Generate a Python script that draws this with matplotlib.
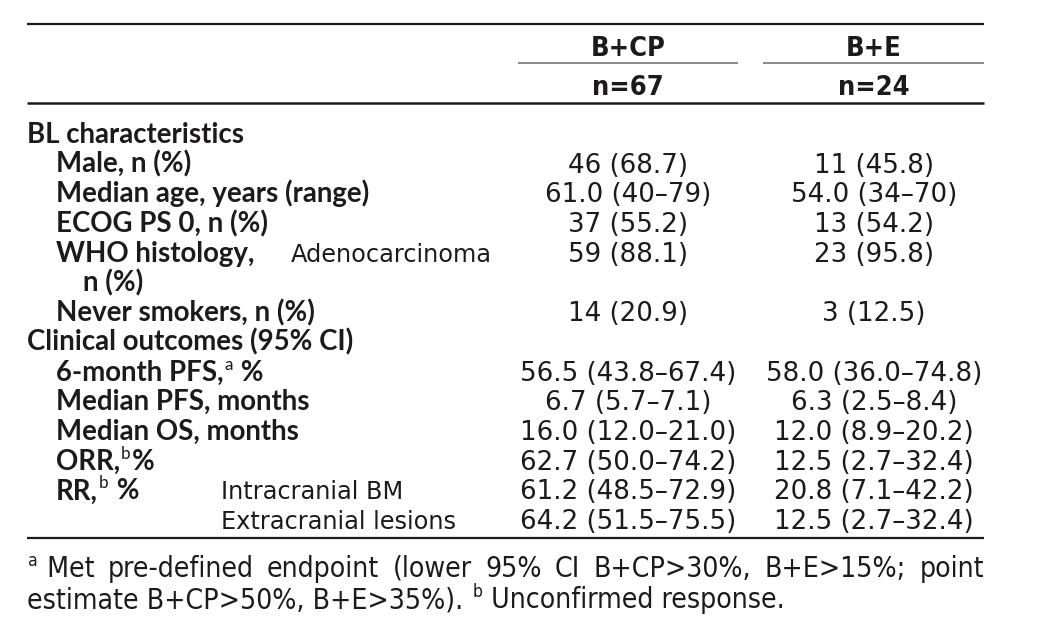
import matplotlib
matplotlib.use('Agg')
import matplotlib.pyplot as plt
from matplotlib import font_manager


def pick(names, stretch='normal'):
    for n in names:
        try:
            p = font_manager.FontProperties(family=n, stretch=stretch)
            font_manager.findfont(p, fallback_to_default=False)
            return n
        except Exception:
            pass
    return 'DejaVu Sans'


BOLD = pick(['Lato', 'Open Sans', 'DejaVu Sans'])
REG = 'DejaVu Sans'
NARROW = pick(['Liberation Sans Narrow', 'DejaVu Sans'], stretch='condensed')
INK = '#1c1a1b'

# table content
groups = ['B+CP', 'B+E']
group_n = ['n=67', 'n=24']
row_labels = ['BL characteristics', 'Male, n (%)', 'Median age, years (range)',
              'ECOG PS 0, n (%)', 'WHO histology,', 'n (%)', 'Never smokers, n (%)',
              'Clinical outcomes (95% CI)', '6-month PFS,^a %', 'Median PFS, months',
              'Median OS, months', 'ORR,^b%', 'RR,^b %', '']
row_sub = ['', '', '', '', 'Adenocarcinoma', '', '', '', '', '', '', '',
           'Intracranial BM', 'Extracranial lesions']
bcp_vals = ['', '46 (68.7)', '61.0 (40–79)', '37 (55.2)', '59 (88.1)', '', '14 (20.9)', '',
            '56.5 (43.8–67.4)', '6.7 (5.7–7.1)', '16.0 (12.0–21.0)', '62.7 (50.0–74.2)',
            '61.2 (48.5–72.9)', '64.2 (51.5–75.5)']
be_vals = ['', '11 (45.8)', '54.0 (34–70)', '13 (54.2)', '23 (95.8)', '', '3 (12.5)', '',
           '58.0 (36.0–74.8)', '6.3 (2.5–8.4)', '12.0 (8.9–20.2)', '12.5 (2.7–32.4)',
           '20.8 (7.1–42.2)', '12.5 (2.7–32.4)']
footnotes = ['^a Met pre-defined endpoint (lower 95% CI B+CP>30%, B+E>15%; point',
             'estimate B+CP>50%, B+E>35%). ^b Unconfirmed response.']

# layout
indent = [0, 1, 1, 1, 1, 2, 1, 0, 1, 1, 1, 1, 1, 1]
indent_x = {0: 27, 1: 56, 2: 83}
sub_x = [0, 0, 0, 0, 291, 0, 0, 0, 0, 0, 0, 0, 221, 221]
col_x = [628, 874]
row0, row_h = 143, 29.7
bold_size = 19.9
sub_size = 17.3
val_size = 18.8

fig = plt.figure(figsize=(10.47, 6.21), dpi=100)
ax = fig.add_axes([0, 0, 1, 1])
ax.set_xlim(0, 1047)
ax.set_ylim(621, 0)
ax.axis('off')
renderer = fig.canvas.get_renderer()


def rich(x, y, s, size, weight='normal', family=REG, stretch='normal', draw=True):
    """draw text with ^x superscripts, return width in px"""
    parts = s.split('^')
    cx = x
    for i, p in enumerate(parts):
        if i > 0 and p:
            sup, p = p[0], p[1:]
            t = ax.text(cx + 1, y - size * 0.55, sup, fontsize=size * 0.62, family=family,
                        fontstretch=stretch, weight='normal', color=INK,
                        va='baseline', ha='left')
            cx += t.get_window_extent(renderer).width + 2
            if not draw:
                t.remove()
        if p:
            t = ax.text(cx, y, p, fontsize=size, family=family, weight=weight,
                        fontstretch=stretch, color=INK, va='baseline', ha='left')
            cx += t.get_window_extent(renderer).width
            if not draw:
                t.remove()
    return cx - x


# rules
ax.plot([27, 984], [24, 24], color=INK, lw=1.6, solid_capstyle='butt')
ax.plot([518, 738], [63, 63], color='#777777', lw=1.2, solid_capstyle='butt')
ax.plot([763, 984], [63, 63], color='#777777', lw=1.2, solid_capstyle='butt')
ax.plot([27, 984], [103, 103], color=INK, lw=1.8, solid_capstyle='butt')
ax.plot([27, 984], [538, 538], color=INK, lw=1.6, solid_capstyle='butt')

# header
for x, g, n in zip(col_x, groups, group_n):
    ax.text(x, 56, g, fontsize=19.5, family=NARROW, fontstretch='condensed', weight='bold',
            color=INK, ha='center', va='baseline')
    ax.text(x, 95, n, fontsize=19.5, family=NARROW, fontstretch='condensed', weight='bold',
            color=INK, ha='center', va='baseline')

# body
for i, lab in enumerate(row_labels):
    y = row0 + i * row_h
    if lab:
        rich(indent_x[indent[i]], y, lab, bold_size, weight='bold', family=BOLD)
    if row_sub[i]:
        ax.text(sub_x[i], y, row_sub[i], fontsize=sub_size, family=REG, color=INK,
                ha='left', va='baseline')
    for x, v in zip(col_x, [bcp_vals[i], be_vals[i]]):
        if v:
            ax.text(x, y, v, fontsize=val_size, family=REG, color=INK,
                    ha='center', va='baseline')

# footnote, first line justified
fn_size = 20.3
for k, line in enumerate(footnotes):
    y = 577 + k * 31
    words = line.split(' ')
    # superscript tokens stick to next word
    merged = []
    for w in words:
        if merged and merged[-1].startswith('^') and len(merged[-1]) == 2:
            merged[-1] = merged[-1] + ' ' + w
        else:
            merged.append(w)
    if k == 0:
        widths = [rich(0, y, w, fn_size, family=NARROW, stretch='condensed', draw=False)
                  for w in merged]
        gap = (984 - 27 - sum(widths)) / (len(merged) - 1)
        cx = 27
        for w, wd in zip(merged, widths):
            rich(cx, y, w, fn_size, family=NARROW, stretch='condensed')
            cx += wd + gap
    else:
        rich(27, y, line, fn_size, family=NARROW, stretch='condensed')

fig.savefig('out.png', dpi=100, facecolor='white')
